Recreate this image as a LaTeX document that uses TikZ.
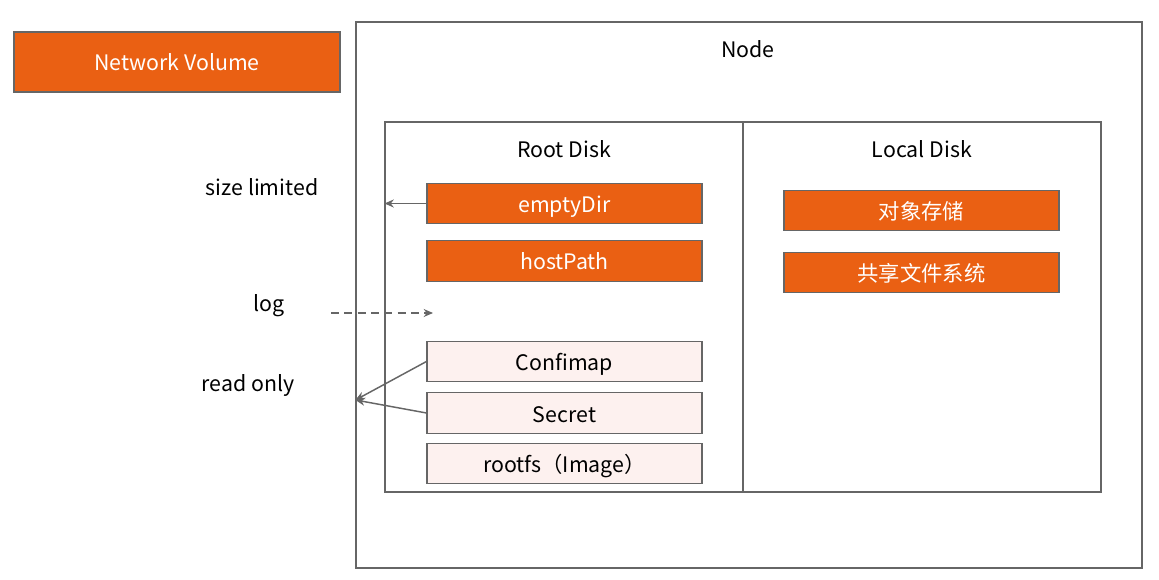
\documentclass[tikz,border=0pt]{standalone}
\usepackage{fontspec}
\setmainfont{Noto Sans CJK SC}
\usepackage{xcolor}
\usetikzlibrary{arrows.meta,positioning}
\definecolor{volorange}{HTML}{EA6013}
\definecolor{volpink}{HTML}{FDF1EF}
\definecolor{edgegray}{HTML}{666666}

\begin{document}
\begin{tikzpicture}[
  x=0.75pt, y=-0.75pt,
  every node/.style={font=\fontsize{16}{19}\selectfont, text height=1.6em, text depth=0.25em},
  frame/.style={draw=edgegray, line width=0.8pt, inner sep=0pt},
  vol/.style={draw=edgegray, line width=0.8pt, fill=volorange, text=white, minimum width=206.25pt, minimum height=30.5pt, inner sep=0pt},
  ro/.style={draw=edgegray, line width=0.8pt, fill=volpink, minimum width=206.25pt, minimum height=30.5pt, inner sep=0pt},
  arr/.style={draw=edgegray, line width=1.1pt, -{Stealth[length=7pt,width=6pt]}}
]
  \useasboundingbox (0,0) rectangle (1159,580);

  \node[vol, minimum width=244.5pt, minimum height=45pt] (netvol) at (177,62) {Network Volume};

  \node[frame, minimum width=589.5pt, minimum height=409.5pt] (node) at (749,295) {};
  \node at (748,49) {Node};

  \node[frame, minimum width=268.5pt, minimum height=277.5pt] (root) at (564,307) {};
  \node[frame, minimum width=268.5pt, minimum height=277.5pt] (local) at (922,307) {};
  \node at (564,149) {Root Disk};
  \node at (922,149) {Local Disk};

  % root disk volumes
  \node[vol] (empty) at (564.5,203.5) {emptyDir};
  \node[vol] (host) at (564.5,261) {hostPath};
  \node[ro] (cfg) at (564.5,361.5) {Confimap};
  \node[ro] (secret) at (564.5,413) {Secret};
  \node[ro] (rootfs) at (564.5,463.5) {rootfs（Image）};

  % local disk volumes
  \node[vol] (oss) at (921.5,210.5) {对象存储};
  \node[vol] (nas) at (921.5,272.5) {共享文件系统};

  % side labels
  \node (size) at (262,187) {size limited};
  \node (log) at (269,303) {log};
  \node (readonly) at (248,383) {read only};

  \coordinate (logA) at (331,313);
  \coordinate (logB) at (433,313);
  \coordinate (roEnd) at (node.west |- 0,400);

  \draw[arr] (empty.west) -- (root.west |- empty.west);
  \draw[arr, dashed, dash pattern=on 6pt off 4pt] (logA) -- (logB);
  \draw[arr] (cfg.west) -- (roEnd);
  \draw[arr] (secret.west) -- (roEnd);
\end{tikzpicture}
\end{document}
